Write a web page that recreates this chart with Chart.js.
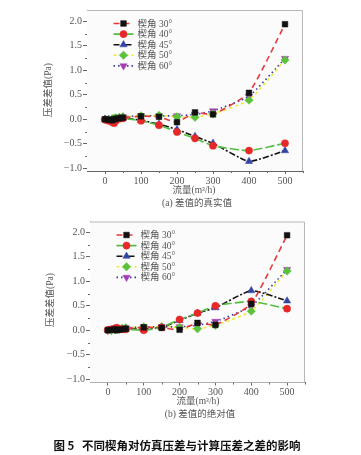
<!DOCTYPE html>
<html><head><meta charset="utf-8">
<script src="https://cdn.jsdelivr.net/npm/chart.js@4.4.1/dist/chart.umd.min.js"></script>
<style>
html,body{margin:0;padding:0;background:#fff;width:361px;height:455px;overflow:hidden;}
#wrap{position:relative;width:361px;height:455px;}
canvas{position:absolute;left:0;}
.t{position:absolute;transform:translate(-50%,-50%);white-space:nowrap;line-height:1;color:#555;font-family:"Liberation Serif","Noto Sans CJK SC",serif;font-size:9.5px;}
.ry{transform:translate(-50%,-50%) rotate(-90deg);}
.cap{color:#111;font-family:"Noto Sans CJK SC",sans-serif;font-weight:bold;font-size:11.5px;}
</style></head>
<body><div id="wrap">
<canvas id="c1" width="361" height="190" style="top:0;width:361px;height:190px"></canvas>
<canvas id="c2" width="361" height="190" style="top:210px;width:361px;height:190px"></canvas>
<div class="t" style="left:194px;top:191px">流量(m³/h)</div>
<div class="t ry" style="left:49px;top:90px">压差差值(Pa)</div>
<div class="t" style="left:197px;top:204px">(a) 差值的真实值</div>
<div class="t" style="left:198px;top:402px">流量(m³/h)</div>
<div class="t ry" style="left:51px;top:300px">压差差值(Pa)</div>
<div class="t" style="left:200px;top:415px">(b) 差值的绝对值</div>
<div class="t cap" style="left:177px;top:446px">图 5&nbsp;&nbsp;&nbsp;不同楔角对仿真压差与计算压差之差的影响</div>
</div>
<script>
// ---- data ----
const flow = [0, 10, 20, 25, 30, 40, 50, 100, 150, 200, 250, 300, 400, 500];
const seriesNames = ['楔角 30°', '楔角 40°', '楔角 45°', '楔角 50°', '楔角 60°'];
// (a) real values
const a30 = [0.00, -0.01, -0.02, 0.00, 0.01, 0.02, 0.03, 0.06, 0.05, -0.06, 0.14, 0.10, 0.54, 1.94];
const a40 = [-0.01, -0.03, -0.06, -0.08, -0.03, 0.01, 0.02, -0.03, -0.12, -0.26, -0.39, -0.54, -0.64, -0.49];
const a45 = [0.00, -0.01, -0.03, -0.04, 0.00, 0.02, 0.03, -0.02, -0.10, -0.21, -0.35, -0.49, -0.86, -0.64];
const a50 = [0.00, 0.00, 0.01, 0.02, 0.03, 0.04, 0.05, 0.07, 0.08, 0.05, 0.04, 0.11, 0.39, 1.21];
const a60 = [0.00, 0.00, 0.01, 0.02, 0.03, 0.04, 0.05, 0.07, 0.07, 0.07, 0.10, 0.17, 0.47, 1.24];
// (b) absolute values
const b30 = [0.00, 0.01, 0.02, 0.00, 0.01, 0.02, 0.03, 0.06, 0.05, 0.01, 0.15, 0.11, 0.54, 1.94];
const b40 = [0.01, 0.02, 0.04, 0.05, 0.03, 0.02, 0.02, 0.00, 0.06, 0.22, 0.35, 0.50, 0.59, 0.44];
const b45 = [0.00, 0.01, 0.03, 0.04, 0.00, 0.02, 0.03, 0.02, 0.06, 0.20, 0.35, 0.46, 0.81, 0.60];
const b50 = [0.00, 0.00, 0.01, 0.02, 0.03, 0.04, 0.05, 0.07, 0.07, 0.06, 0.03, 0.10, 0.39, 1.21];
const b60 = [0.00, 0.00, 0.01, 0.02, 0.03, 0.04, 0.05, 0.07, 0.07, 0.07, 0.10, 0.18, 0.49, 1.24];
const yTicks = [-1.0, -0.5, 0.0, 0.5, 1.0, 1.5, 2.0];
const xTicks = [0, 100, 200, 300, 400, 500];

// ---- styles ----
const styles = [
  {line:'#e4383c', dash:[6,4], marker:'#111111', ps:'rect', r:4, rot:0},
  {line:'#57bd42', dash:[9,3], marker:'#e62828', ps:'circle', r:3.6, rot:0},
  {line:'#111111', dash:[6,2,2,2], marker:'#3444a6', ps:'triangle', r:4.2, rot:0},
  {line:'#ecec3c', dash:[3,3], marker:'#5cc23e', ps:'rectRot', r:4.2, rot:0},
  {line:'#3a3a9c', dash:[1.5,3], marker:'#a23cb4', ps:'triangle', r:4.2, rot:180}
];

function drawMarker(ctx, st, x, y){
  ctx.save();
  ctx.fillStyle = st.marker; ctx.strokeStyle = st.marker; ctx.lineWidth = 0.5; ctx.setLineDash([]);
  ctx.beginPath();
  const r = st.r;
  if (st.ps === 'rect'){ const s = r/Math.SQRT2; ctx.rect(x-s,y-s,2*s,2*s); }
  else if (st.ps === 'circle'){ ctx.arc(x,y,r,0,Math.PI*2); }
  else if (st.ps === 'rectRot'){ const s=r; ctx.moveTo(x,y-s);ctx.lineTo(x+s,y);ctx.lineTo(x,y+s);ctx.lineTo(x-s,y);ctx.closePath(); }
  else if (st.ps === 'triangle'){
    const k = st.rot===180 ? -1 : 1;
    ctx.moveTo(x, y - k*r); ctx.lineTo(x + r*0.866, y + k*r*0.5); ctx.lineTo(x - r*0.866, y + k*r*0.5); ctx.closePath();
  }
  ctx.fill(); ctx.stroke();
  ctx.restore();
}

const framePlugin = {
  id:'frame',
  beforeDatasetsDraw(chart){
    const {ctx, chartArea:a} = chart;
    ctx.save();
    ctx.fillStyle = '#fbfbfb';
    ctx.fillRect(a.left, a.top, a.right-a.left, a.bottom-a.top);
    ctx.strokeStyle = '#b8b8b8'; ctx.lineWidth = 1;
    ctx.beginPath();
    ctx.moveTo(a.left, a.top+0.5); ctx.lineTo(a.right-0.5, a.top+0.5); ctx.lineTo(a.right-0.5, a.bottom);
    ctx.stroke();
    // minor ticks
    const xs = chart.scales.x, ys = chart.scales.y;
    ctx.strokeStyle = '#666';
    ctx.beginPath();
    [50,150,250,350,450,550].forEach(v=>{ const px = Math.round(xs.getPixelForValue(v))+0.5; ctx.moveTo(px, a.bottom); ctx.lineTo(px, a.bottom+2); });
    [-0.75,-0.25,0.25,0.75,1.25,1.75].forEach(v=>{ const py = Math.round(ys.getPixelForValue(v))+0.5; ctx.moveTo(a.left, py); ctx.lineTo(a.left-2, py); });
    ctx.stroke();
    ctx.restore();
  },
  afterDraw(chart){
    const {ctx, chartArea:a} = chart;
    const x0 = a.left + 26.5, y0 = a.top + 13.5, step = 10.6;
    ctx.save();
    styles.forEach((st,i)=>{
      const y = y0 + i*step;
      ctx.strokeStyle = st.line; ctx.lineWidth = 1.6; ctx.setLineDash(st.dash);
      ctx.beginPath(); ctx.moveTo(x0, y); ctx.lineTo(x0+20, y); ctx.stroke();
      drawMarker(ctx, st, x0+10, y);
      ctx.setLineDash([]);
      ctx.fillStyle = '#555';
      ctx.font = '9.5px "Liberation Serif","Noto Sans CJK SC",serif';
      ctx.textBaseline = 'middle'; ctx.textAlign = 'left';
      ctx.fillText(seriesNames[i], x0+24, y+0.5);
    });
    ctx.restore();
  }
};

function makeChart(id, data, geo){
  const datasets = data.map((vals,i)=>{
    const st = styles[i];
    return {
      label: seriesNames[i],
      data: flow.map((x,j)=>({x, y: vals[j]})),
      borderColor: st.line, borderDash: st.dash, borderWidth: 1.6,
      backgroundColor: st.marker, pointBackgroundColor: st.marker, pointBorderColor: st.marker,
      pointBorderWidth: 0.5, pointStyle: st.ps, pointRadius: st.r, pointRotation: st.rot,
      tension: 0.15, fill: false
    };
  });
  return new Chart(document.getElementById(id), {
    type: 'line',
    data: { datasets },
    plugins: [framePlugin],
    options: {
      responsive: false, animation: false, devicePixelRatio: 1,
      layout: { padding: geo.pad },
      plugins: { legend: {display:false}, tooltip: {enabled:false} },
      scales: {
        x: {
          type: 'linear', min: -50, max: 550,
          afterBuildTicks: s => { s.ticks = xTicks.map(v=>({value:v})); },
          afterFit: s => { s.height = 14; },
          grid: { drawOnChartArea:false, drawTicks:true, tickLength:3, color:'#666' },
          border: { display:true, color:'#666', width:1 },
          ticks: { padding:1, color:'#555', font:{family:'"Liberation Serif", serif', size:10}, maxRotation:0, callback: v => String(v) }
        },
        y: {
          type: 'linear', min: geo.ymin, max: geo.ymax,
          afterBuildTicks: s => { s.ticks = yTicks.map(v=>({value:v})); },
          afterFit: s => { s.width = geo.yw; },
          grid: { drawOnChartArea:false, drawTicks:true, tickLength:4, color:'#666' },
          border: { display:true, color:'#666', width:1 },
          ticks: { padding:1, color:'#555', font:{family:'"Liberation Serif", serif', size:10}, callback: v => (v<0?'\u2212':'') + Math.abs(v).toFixed(1) }
        }
      }
    }
  });
}

makeChart('c1', [a30,a40,a45,a50,a60], {pad:{top:10,right:58,left:0,bottom:5}, yw:87, ymin:-1.056, ymax:2.23});
makeChart('c2', [b30,b40,b45,b50,b60], {pad:{top:11.5,right:56,left:0,bottom:3.5}, yw:90, ymin:-1.066, ymax:2.22});
</script>
</body></html>
